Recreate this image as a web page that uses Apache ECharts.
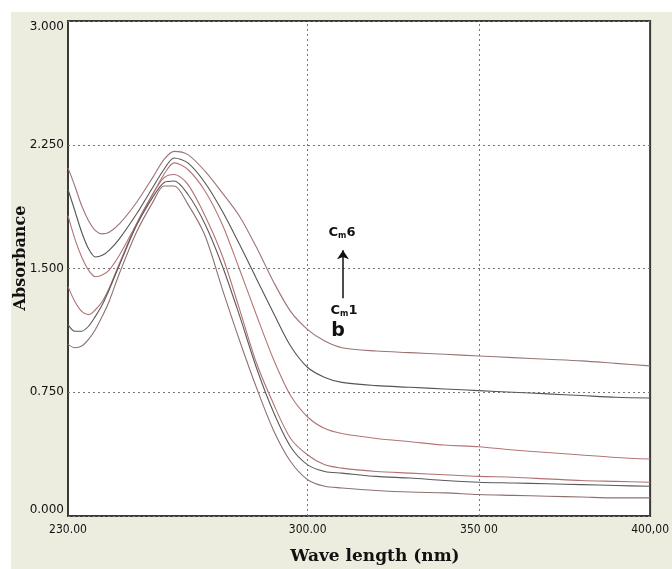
<!DOCTYPE html>
<html>
<head>
<meta charset="utf-8">
<script src="https://cdn.jsdelivr.net/npm/echarts@6/dist/echarts.min.js"></script>
<style>
  html, body { margin: 0; padding: 0; background: #fff; }
  .wrap { position: relative; width: 672px; height: 569px; overflow: hidden; }
  .panel { position: absolute; left: 11px; top: 12px; right: 0; bottom: 0; background: #ededdf; }
  .chartbox { position: absolute; left: 0; top: 0; width: 672px; height: 569px; }
</style>
</head>
<body>
<div class="wrap">
  <div class="panel"></div>
  <div class="chartbox" id="chart"></div>
</div>
<script>
  // 波长 (nm)
  let wavelength = [230, 232, 234, 236, 238, 240, 242, 245, 250, 255, 258, 261, 265, 270, 275, 280, 285, 290, 295, 300, 305, 310, 320, 330, 340, 350, 360, 370, 380, 390, 400]
  // 吸光度, 从上到下 6 条曲线
  let curveA = [2.11, 2.00, 1.88, 1.79, 1.73, 1.71, 1.72, 1.77, 1.90, 2.06, 2.16, 2.21, 2.19, 2.09, 1.96, 1.82, 1.63, 1.42, 1.24, 1.13, 1.06, 1.02, 1.00, 0.99, 0.98, 0.97, 0.96, 0.95, 0.94, 0.925, 0.91]
  let curveB = [1.98, 1.85, 1.72, 1.62, 1.57, 1.58, 1.61, 1.68, 1.83, 2.00, 2.10, 2.17, 2.14, 2.02, 1.85, 1.65, 1.44, 1.23, 1.03, 0.90, 0.84, 0.81, 0.79, 0.78, 0.77, 0.76, 0.75, 0.74, 0.73, 0.72, 0.715]
  let curveC = [1.82, 1.68, 1.57, 1.49, 1.45, 1.46, 1.49, 1.58, 1.77, 1.96, 2.07, 2.14, 2.10, 1.97, 1.77, 1.50, 1.22, 0.95, 0.73, 0.60, 0.53, 0.50, 0.47, 0.45, 0.43, 0.42, 0.40, 0.385, 0.37, 0.355, 0.345]
  let curveD = [1.39, 1.30, 1.24, 1.22, 1.25, 1.30, 1.38, 1.53, 1.77, 1.96, 2.05, 2.07, 2.01, 1.82, 1.58, 1.26, 0.93, 0.68, 0.47, 0.37, 0.31, 0.29, 0.27, 0.26, 0.25, 0.24, 0.235, 0.225, 0.215, 0.21, 0.205]
  let curveE = [1.16, 1.12, 1.12, 1.15, 1.21, 1.28, 1.37, 1.52, 1.76, 1.94, 2.02, 2.03, 1.95, 1.77, 1.52, 1.22, 0.90, 0.63, 0.42, 0.31, 0.27, 0.26, 0.24, 0.23, 0.215, 0.205, 0.20, 0.195, 0.19, 0.185, 0.18]
  let curveF = [1.04, 1.02, 1.03, 1.07, 1.13, 1.21, 1.30, 1.47, 1.72, 1.91, 2.00, 2.00, 1.89, 1.70, 1.38, 1.07, 0.78, 0.52, 0.33, 0.22, 0.18, 0.17, 0.155, 0.145, 0.14, 0.13, 0.125, 0.12, 0.115, 0.11, 0.11]
  let curves = [curveA, curveB, curveC, curveD, curveE, curveF]
  let colorList = ['#9c7474', '#555555', '#b37575', '#b07272', '#5a5a5a', '#8e7070']
  // 刻度标签
  let xTicks = [230, 300, 350, 400]
  let xTickText = ['230.00', '300.00', '350 00', '400,00']

  let chart = echarts.init(document.getElementById('chart'))

  let series = curves.map((arr, k) => {
    return {
      type: 'line',
      data: wavelength.map((w, i) => [w, arr[i]]),
      smooth: 0.3,
      showSymbol: false,
      silent: true,
      lineStyle: { color: colorList[k], width: 1.1 },
      z: 3
    }
  })
  // 竖直网格线
  series.push({
    type: 'line',
    data: [],
    markLine: {
      silent: true,
      animation: false,
      symbol: 'none',
      label: { show: false },
      lineStyle: { color: '#777', width: 1, type: [2, 3] },
      data: [{ xAxis: 300 }, { xAxis: 350 }]
    }
  })
  // 箭头 Cm1 -> Cm6
  series.push({
    type: 'line',
    data: [],
    markLine: {
      silent: true,
      animation: false,
      symbol: ['none', 'arrow'],
      symbolSize: 9,
      label: { show: false },
      lineStyle: { color: '#111', width: 1.5, type: 'solid' },
      data: [[{ coord: [310.3, 1.32] }, { coord: [310.3, 1.61] }]]
    }
  })

  let option = {
    animation: false,
    grid: {
      left: 68,
      right: 19,
      top: 21,
      bottom: 53,
      show: true,
      backgroundColor: '#fff',
      borderColor: '#3a3a3a',
      borderWidth: 2
    },
    xAxis: {
      type: 'value',
      min: 230,
      max: 400,
      interval: 10,
      axisLine: { show: false },
      axisTick: { show: false },
      splitLine: { show: false },
      axisLabel: {
        customValues: xTicks,
        margin: 8,
        color: '#111',
        fontSize: 12,
        fontFamily: 'DejaVu Sans Condensed, DejaVu Sans',
        formatter: function(v) {
          let idx = xTicks.indexOf(v)
          return idx >= 0 ? xTickText[idx] : ''
        }
      }
    },
    yAxis: {
      type: 'value',
      min: 0,
      max: 3,
      interval: 0.75,
      axisLine: { show: false },
      axisTick: { show: false },
      splitLine: { show: true, lineStyle: { color: '#777', width: 1, type: [2, 3] } },
      axisLabel: {
        margin: 4,
        color: '#111',
        fontSize: 12,
        fontFamily: 'DejaVu Sans',
        verticalAlignMinLabel: 'bottom',
        verticalAlignMaxLabel: 'top',
        formatter: function(v) {
          return v.toFixed(3)
        }
      }
    },
    graphic: [
      {
        type: 'text',
        x: 21,
        y: 258,
        rotation: Math.PI / 2,
        style: { text: 'Absorbance', font: 'bold 16px "DejaVu Serif"', fill: '#111', align: 'center', verticalAlign: 'middle' }
      },
      {
        type: 'text',
        x: 375,
        y: 557,
        style: { text: 'Wave length (nm)', font: 'bold 17px "DejaVu Serif"', fill: '#111', align: 'center', verticalAlign: 'middle' }
      },
      {
        type: 'text',
        x: 342,
        y: 233,
        z: 10,
        style: {
          text: 'C{s|m}6',
          font: 'bold 13px "DejaVu Sans"',
          fill: '#111',
          align: 'center',
          verticalAlign: 'middle',
          rich: { s: { fontSize: 8, fontWeight: 'bold', fontFamily: 'DejaVu Sans', fill: '#111', verticalAlign: 'bottom' } }
        }
      },
      {
        type: 'text',
        x: 344,
        y: 311,
        z: 10,
        style: {
          text: 'C{s|m}1',
          font: 'bold 13px "DejaVu Sans"',
          fill: '#111',
          align: 'center',
          verticalAlign: 'middle',
          rich: { s: { fontSize: 8, fontWeight: 'bold', fontFamily: 'DejaVu Sans', fill: '#111', verticalAlign: 'bottom' } }
        }
      },
      {
        type: 'text',
        x: 338,
        y: 331,
        z: 10,
        style: { text: 'b', font: 'bold 19px "DejaVu Sans"', fill: '#111', align: 'center', verticalAlign: 'middle' }
      }
    ],
    series: series
  }
  chart.setOption(option, true)
</script>
</body>
</html>
